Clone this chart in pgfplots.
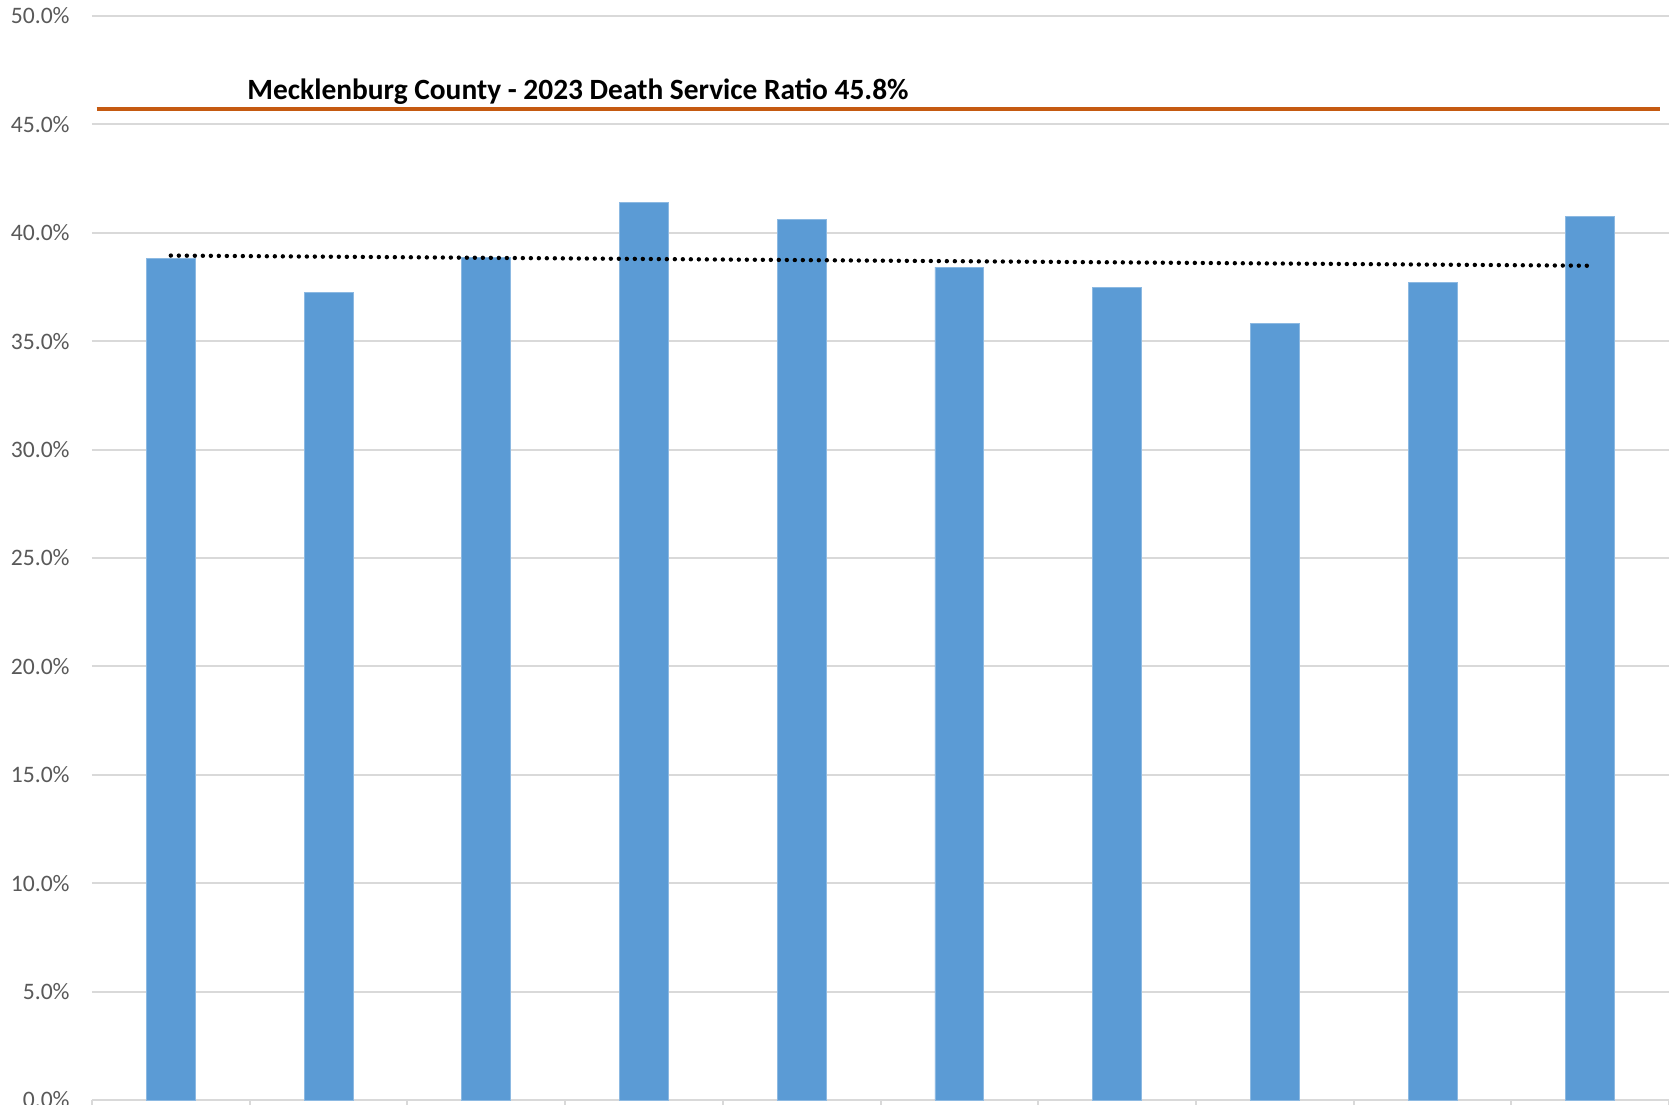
\documentclass[border=0pt]{standalone}
\usepackage{pgfplots}
\pgfplotsset{compat=1.18}
\usepackage{fontspec}
\setmainfont{Carlito}
\definecolor{barblue}{HTML}{5B9BD5}
\definecolor{refor}{HTML}{C55A11}
\definecolor{gridgray}{HTML}{D9D9D9}
\definecolor{labgray}{HTML}{595959}
\begin{document}
\begin{tikzpicture}
\begin{axis}[
  at={(0,0)}, anchor=south west,
  scale only axis, width=788.5pt, height=542pt,
  xmin=-0.5, xmax=9.5, ymin=0, ymax=50,
  axis x line*=bottom, axis y line*=left,
  y axis line style={draw=none},
  x axis line style={draw=gridgray, line width=1pt, -},
  xtick={-0.5,0.5,...,9.5}, xticklabels={},
  x tick style={draw=gridgray, line width=1pt},
  y tick style={draw=none},
  tick align=outside, major tick length=8pt,
  ymajorgrids, grid style={draw=gridgray, line width=1pt},
  ytick={0,5,10,15,20,25,30,35,40,45,50},
  yticklabels={0.0\%,5.0\%,10.0\%,15.0\%,20.0\%,25.0\%,30.0\%,35.0\%,40.0\%,45.0\%,50.0\%},
  yticklabel style={font=\fontsize{11.8}{14}\selectfont, text=labgray, inner sep=0pt, anchor=east, xshift=-3pt},
]
\addplot[ybar, bar width=0.31, fill=barblue, draw=barblue!70!white, line width=0.4pt] coordinates {
  (0,38.82) (1,37.25) (2,38.87) (3,41.42) (4,40.60)
  (5,38.42) (6,37.47) (7,35.83) (8,37.72) (9,40.74)
};
\addplot[black, line width=2.2pt, line cap=round, dash pattern=on 0pt off 4pt] coordinates {(0,38.95) (9,38.48)};
\addplot[refor, line width=2pt] coordinates {(-0.47,45.7) (9.443,45.7)};
\node[anchor=west, font=\bfseries\fontsize{14.7}{17}\selectfont, inner sep=0pt] at (axis cs:0.483,46.52) {Mecklenburg County - 2023 Death Service Ratio 45.8\%};
\end{axis}
\pgfresetboundingbox
\path[use as bounding box] (-46pt,-2pt) rectangle (788.5pt,550pt);
\end{tikzpicture}
\end{document}
